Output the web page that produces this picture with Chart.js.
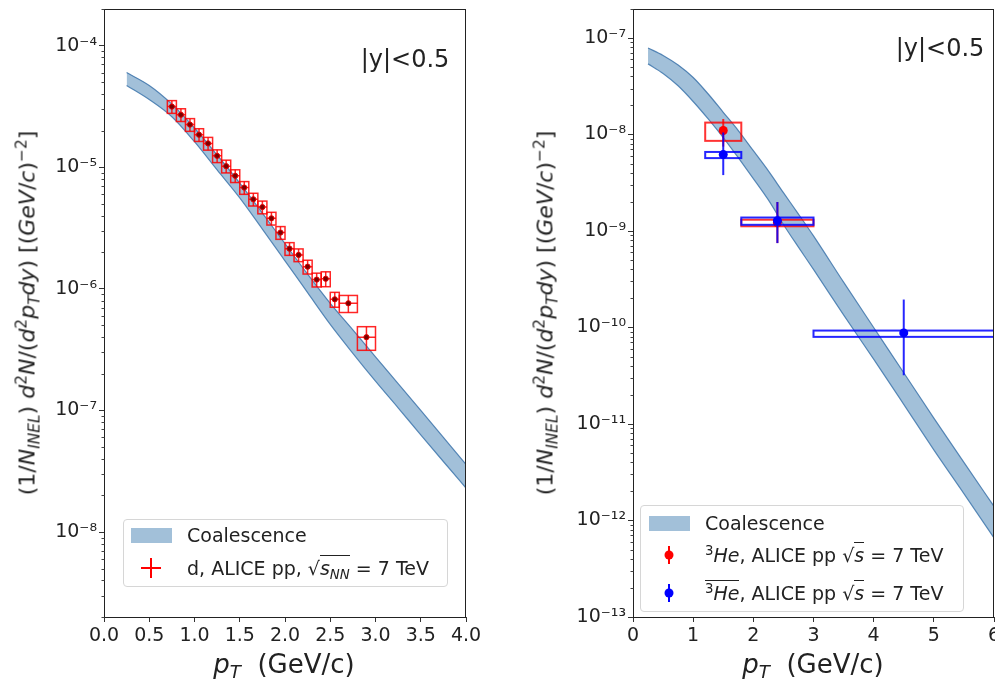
<!DOCTYPE html>
<html>
<head>
<meta charset="utf-8">
<script src="https://cdn.jsdelivr.net/npm/chart.js@4.4.0/dist/chart.umd.min.js"></script>
<style>
  body { margin: 0; background: #fff; font-family: 'DejaVu Sans', sans-serif; }
  #wrap { position: relative; width: 995px; height: 681px; overflow: hidden; background: #fff; }
  canvas { position: absolute; top: 0; }
  .txt { position: absolute; color: #222; white-space: nowrap; transform: translate(-50%, -50%); }
  .ytitle { position: absolute; color: #222; white-space: nowrap; font-size: 22px;
            transform: translate(-50%, -50%) rotate(-90deg); }
  .xtitle { font-size: 26px; }
  .note { font-size: 24px; }
  sub { font-size: 0.7em; vertical-align: -0.3em; line-height: 0; }
  sup { font-size: 0.7em; vertical-align: 0.55em; line-height: 0; }
  .legend { position: absolute; background: rgba(255,255,255,0.8); border: 1px solid #d6d6d6;
            border-radius: 4px; font-size: 19px; color: #222; }
  .legend .row { position: absolute; left: 63px; height: 24px; line-height: 24px; white-space: nowrap; }
  .patch { position: absolute; width: 41px; height: 15px; background: rgba(70,130,180,0.5); }
  .legend svg { position: absolute; }
  .ov { border-top: 1px solid #222; padding-top: 1px; }
</style>
</head>
<body>
<div id="wrap">
  <canvas id="left" width="497" height="681" style="left:0"></canvas>
  <canvas id="right" width="498" height="681" style="left:497px"></canvas>

  <div class="ytitle" style="left:27px;top:313px">(1/<i>N</i><sub><i>INEL</i></sub>) <i>d</i><sup>2</sup><i>N</i>/(<i>d</i><sup>2</sup><i>p</i><sub><i>T</i></sub><i>dy</i>) [(<i>GeV</i>/<i>c</i>)<sup>−2</sup>]</div>
  <div class="ytitle" style="left:545px;top:313px">(1/<i>N</i><sub><i>INEL</i></sub>) <i>d</i><sup>2</sup><i>N</i>/(<i>d</i><sup>2</sup><i>p</i><sub><i>T</i></sub><i>dy</i>) [(<i>GeV</i>/<i>c</i>)<sup>−2</sup>]</div>

  <div class="txt xtitle" style="left:284px;top:664px"><i>p</i><sub><i>T</i></sub>&nbsp; (GeV/c)</div>
  <div class="txt xtitle" style="left:813px;top:664px"><i>p</i><sub><i>T</i></sub>&nbsp; (GeV/c)</div>

  <div class="txt note" style="left:405px;top:59px">|y|&lt;0.5</div>
  <div class="txt note" style="left:940px;top:48px">|y|&lt;0.5</div>

  <div class="legend" style="left:123px;top:519px;width:323px;height:66px">
    <div class="patch" style="left:7px;top:8px"></div>
    <div class="row" style="top:3px">Coalescence</div>
    <svg style="left:17px;top:38px" width="20" height="20"><path d="M10 0V20M0 10H20" stroke="red" stroke-width="2"/></svg>
    <div class="row" style="top:36px">d, ALICE pp, √<span class="ov"><i>s</i><sub><i>NN</i></sub></span> = 7 TeV</div>
  </div>

  <div class="legend" style="left:640px;top:505px;width:322px;height:105px">
    <div class="patch" style="left:8px;top:10px"></div>
    <div class="row" style="top:5px;left:64px">Coalescence</div>
    <svg style="left:20px;top:38px" width="16" height="22"><path d="M8 2V20" stroke="red" stroke-width="2"/><circle cx="8" cy="11" r="4.5" fill="red"/></svg>
    <div class="row" style="top:37px;left:64px"><sup>3</sup><i>He</i>, ALICE pp √<span class="ov"><i>s</i></span> = 7 TeV</div>
    <svg style="left:20px;top:76px" width="16" height="22"><path d="M8 2V20" stroke="blue" stroke-width="2"/><circle cx="8" cy="11" r="4.5" fill="blue"/></svg>
    <div class="row" style="top:75px;left:64px"><span class="ov"><sup>3</sup><i>He</i></span>, ALICE pp √<span class="ov"><i>s</i></span> = 7 TeV</div>
  </div>
</div>

<script>
// left panel: deuteron spectrum, ALICE pp 7 TeV
const dPt = [0.75, 0.85, 0.95, 1.05, 1.15, 1.25, 1.35, 1.45, 1.55, 1.65, 1.75, 1.85, 1.95, 2.05, 2.15, 2.25, 2.35, 2.45, 2.55, 2.7, 2.9];
const dYield = [3.15e-5, 2.70e-5, 2.24e-5, 1.85e-5, 1.57e-5, 1.24e-5, 1.02e-5, 8.5e-6, 6.8e-6, 5.45e-6, 4.7e-6,
                3.8e-6, 2.9e-6, 2.14e-6, 1.9e-6, 1.52e-6, 1.19e-6, 1.21e-6, 8.2e-7, 7.6e-7, 4.0e-7];
const dPtHalf = [0.05, 0.05, 0.05, 0.05, 0.05, 0.05, 0.05, 0.05, 0.05, 0.05, 0.05,
                 0.05, 0.05, 0.05, 0.05, 0.05, 0.05, 0.05, 0.05, 0.1, 0.1];
const dRelErr = [0.12, 0.12, 0.12, 0.12, 0.12, 0.12, 0.12, 0.12, 0.12, 0.12, 0.12,
                 0.12, 0.12, 0.12, 0.12, 0.13, 0.13, 0.14, 0.14, 0.16, 0.22];

// coalescence band, deuteron
const bandPtL = [0.25, 0.5, 0.75, 1.0, 1.25, 1.5, 1.75, 2.0, 2.25, 2.5, 2.75, 3.0, 3.25, 3.5, 3.75, 4.0];
const bandHiL = [6.0e-5, 4.7e-5, 3.3e-5, 2.1e-5, 1.26e-5, 7.4e-6, 4.2e-6, 2.35e-6, 1.32e-6, 7.6e-7, 4.6e-7,
                 2.75e-7, 1.66e-7, 1.0e-7, 6.0e-8, 3.6e-8];
const bandLoL = [4.7e-5, 3.6e-5, 2.6e-5, 1.62e-5, 9.5e-6, 5.6e-6, 3.1e-6, 1.7e-6, 9.3e-7, 5.1e-7, 2.95e-7,
                 1.74e-7, 1.05e-7, 6.3e-8, 3.8e-8, 2.3e-8];

// right panel: 3He and anti-3He, ALICE pp 7 TeV
const he3Pt = [1.5, 2.4];
const he3Yield = [1.1e-8, 1.22e-9];
const he3PtLo = [1.2, 1.8];
const he3PtHi = [1.8, 3.0];
const he3SysLo = [8.6e-9, 1.12e-9];
const he3SysHi = [1.33e-8, 1.31e-9];
const he3StatLo = [7.5e-9, 7.5e-10];
const he3StatHi = [1.45e-8, 2.0e-9];

const aHe3Pt = [1.5, 2.4, 4.5];
const aHe3Yield = [6.2e-9, 1.28e-9, 8.8e-11];
const aHe3PtLo = [1.2, 1.8, 3.0];
const aHe3PtHi = [1.8, 3.0, 6.0];
const aHe3SysLo = [5.7e-9, 1.16e-9, 8.0e-11];
const aHe3SysHi = [6.6e-9, 1.38e-9, 9.3e-11];
const aHe3StatLo = [3.8e-9, 7.5e-10, 3.2e-11];
const aHe3StatHi = [1.05e-8, 2.0e-9, 1.95e-10];

// coalescence band, 3He
const bandPtR = [0.25, 0.5, 0.75, 1.0, 1.25, 1.5, 1.75, 2.0, 2.25, 2.5, 2.75, 3.0, 3.5, 4.0, 4.5, 5.0, 5.5, 6.0];
const bandHiR = [7.9e-8, 6.6e-8, 5.25e-8, 3.9e-8, 2.63e-8, 1.7e-8, 1.1e-8, 6.8e-9, 4.2e-9, 2.5e-9, 1.5e-9,
                 8.9e-10, 2.95e-10, 1.0e-10, 3.4e-11, 1.15e-11, 4.0e-12, 1.4e-12];
const bandLoR = [5.4e-8, 4.3e-8, 3.2e-8, 2.2e-8, 1.45e-8, 9.3e-9, 5.75e-9, 3.5e-9, 2.1e-9, 1.17e-9, 6.8e-10,
                 4.0e-10, 1.35e-10, 4.7e-11, 1.6e-11, 5.4e-12, 1.9e-12, 6.6e-13];

const bandFill = 'rgba(70,130,180,0.5)';
const bandEdge = 'rgba(60,115,170,0.85)';
const font = { family: 'DejaVu Sans', size: 19 };
const supMap = { '-': '⁻', '0': '⁰', '1': '¹', '2': '²', '3': '³', '4': '⁴', '5': '⁵', '6': '⁶', '7': '⁷', '8': '⁸', '9': '⁹' };

function powLabel(v) {
  const e = Math.round(Math.log10(v));
  return '10' + String(e).split('').map(c => supMap[c]).join('');
}

function toXY(xs, ys) {
  return xs.map((x, i) => ({ x: x, y: ys[i] }));
}

function bandSets(xs, hi, lo) {
  return [
    { data: toXY(xs, hi), borderColor: bandEdge, borderWidth: 1.2, backgroundColor: bandFill,
      fill: '+1', pointRadius: 0, cubicInterpolationMode: 'monotone' },
    { data: toXY(xs, lo), borderColor: bandEdge, borderWidth: 1.2, backgroundColor: bandFill,
      fill: false, pointRadius: 0, cubicInterpolationMode: 'monotone' }
  ];
}

function drawErrors(chart, s) {
  const { ctx, chartArea: a, scales: { x, y } } = chart;
  ctx.save();
  ctx.beginPath();
  ctx.rect(a.left, a.top, a.width, a.height);
  ctx.clip();
  ctx.strokeStyle = s.color;
  ctx.lineWidth = s.width;
  s.pt.forEach((p, i) => {
    const x0 = x.getPixelForValue(s.ptLo[i]), x1 = x.getPixelForValue(s.ptHi[i]);
    const y0 = y.getPixelForValue(s.sysHi[i]), y1 = y.getPixelForValue(s.sysLo[i]);
    const xc = x.getPixelForValue(p), yc = y.getPixelForValue(s.val[i]);
    ctx.strokeRect(x0, y0, x1 - x0, y1 - y0);
    ctx.beginPath();
    ctx.moveTo(xc, y.getPixelForValue(s.statHi[i]));
    ctx.lineTo(xc, y.getPixelForValue(s.statLo[i]));
    if (s.xBar) {
      ctx.moveTo(x0, yc);
      ctx.lineTo(x1, yc);
    }
    ctx.stroke();
  });
  ctx.restore();
}

// frame + minor log ticks
const framePlugin = {
  id: 'frame',
  afterDraw(chart) {
    const { ctx, chartArea: a, scales: { y } } = chart;
    ctx.save();
    ctx.strokeStyle = '#222';
    ctx.lineWidth = 1;
    const l = Math.round(a.left) + 0.5, t = Math.round(a.top) + 0.5;
    const r = Math.round(a.right) - 0.5, b = Math.round(a.bottom) + 0.5;
    ctx.strokeRect(l, t, r - l, b - t);
    ctx.strokeStyle = '#444';
    ctx.beginPath();
    const e0 = Math.floor(Math.log10(y.min)), e1 = Math.ceil(Math.log10(y.max));
    for (let e = e0; e <= e1; e++) {
      for (let k = 2; k <= 9; k++) {
        const v = k * Math.pow(10, e);
        if (v < y.min || v > y.max) continue;
        const py = Math.round(y.getPixelForValue(v)) + 0.5;
        ctx.moveTo(l - 3, py);
        ctx.lineTo(l, py);
      }
    }
    ctx.stroke();
    ctx.restore();
  }
};

function makeOptions(xMax, xStep, xFmt, yMin, yMax, yWidth, padRight) {
  return {
    responsive: false,
    animation: false,
    devicePixelRatio: 1,
    layout: { autoPadding: false, padding: { left: 0, right: padRight, top: 9, bottom: 24 } },
    plugins: { legend: { display: false }, tooltip: { enabled: false } },
    scales: {
      x: {
        type: 'linear', min: 0, max: xMax,
        border: { display: false },
        grid: { drawOnChartArea: false, drawTicks: true, tickLength: 5, tickColor: '#333' },
        ticks: { stepSize: xStep, font: font, color: '#222', padding: 3, maxRotation: 0, autoSkip: false,
                 callback: v => xFmt(v) },
        afterFit: s => { s.height = 40; s.paddingLeft = 0; s.paddingRight = 0; }
      },
      y: {
        type: 'logarithmic', min: yMin, max: yMax,
        border: { display: false },
        grid: { drawOnChartArea: false, drawTicks: true, tickLength: 5, tickColor: '#333' },
        ticks: { font: font, color: '#222', padding: 2, autoSkip: false, callback: v => powLabel(v) },
        afterBuildTicks: s => {
          const t = [];
          for (let e = Math.ceil(Math.log10(yMin) - 1e-9); e <= Math.floor(Math.log10(yMax) + 1e-9); e++) {
            t.push({ value: Math.pow(10, e) });
          }
          s.ticks = t;
        },
        afterFit: s => { s.width = yWidth; s.paddingTop = 0; s.paddingBottom = 0; }
      }
    }
  };
}

const dErr = {
  pt: dPt, val: dYield, color: 'rgba(255,0,0,0.85)', width: 1.5, xBar: true,
  ptLo: dPt.map((p, i) => p - dPtHalf[i]), ptHi: dPt.map((p, i) => p + dPtHalf[i]),
  sysLo: dYield.map((v, i) => v * (1 - dRelErr[i])), sysHi: dYield.map((v, i) => v * (1 + dRelErr[i])),
  statLo: dYield.map((v, i) => v * (1 - dRelErr[i])), statHi: dYield.map((v, i) => v * (1 + dRelErr[i]))
};

new Chart(document.getElementById('left'), {
  type: 'line',
  data: {
    datasets: [
      { data: toXY(dPt, dYield), showLine: false, pointRadius: 2.6, pointBackgroundColor: '#7a0000',
        pointBorderColor: '#e00000', pointBorderWidth: 1 },
      ...bandSets(bandPtL, bandHiL, bandLoL)
    ]
  },
  options: makeOptions(4, 0.5, v => v.toFixed(1), 2e-9, 2e-4, 104, 31),
  plugins: [framePlugin, {
    id: 'dErrors',
    beforeDatasetDraw(chart, args) { if (args.index === 0) drawErrors(chart, dErr); }
  }]
});

const he3Err = {
  pt: he3Pt, val: he3Yield, color: 'rgba(255,0,0,0.8)', width: 2, xBar: false,
  ptLo: he3PtLo, ptHi: he3PtHi, sysLo: he3SysLo, sysHi: he3SysHi, statLo: he3StatLo, statHi: he3StatHi
};
const aHe3Err = {
  pt: aHe3Pt, val: aHe3Yield, color: 'rgba(0,0,255,0.85)', width: 2, xBar: false,
  ptLo: aHe3PtLo, ptHi: aHe3PtHi, sysLo: aHe3SysLo, sysHi: aHe3SysHi, statLo: aHe3StatLo, statHi: aHe3StatHi
};

new Chart(document.getElementById('right'), {
  type: 'line',
  data: {
    datasets: [
      { data: toXY(aHe3Pt, aHe3Yield), showLine: false, pointRadius: 4.5, pointBackgroundColor: 'blue',
        pointBorderWidth: 0 },
      { data: toXY(he3Pt, he3Yield), showLine: false, pointRadius: 4.5, pointBackgroundColor: 'red',
        pointBorderWidth: 0 },
      ...bandSets(bandPtR, bandHiR, bandLoR)
    ]
  },
  options: makeOptions(6, 1, v => String(Math.round(v)), 1e-13, 2e-7, 136, 1),
  plugins: [framePlugin, {
    id: 'heErrors',
    beforeDatasetDraw(chart, args) {
      if (args.index === 1) drawErrors(chart, he3Err);
      if (args.index === 0) drawErrors(chart, aHe3Err);
    }
  }]
});
</script>
</body>
</html>
